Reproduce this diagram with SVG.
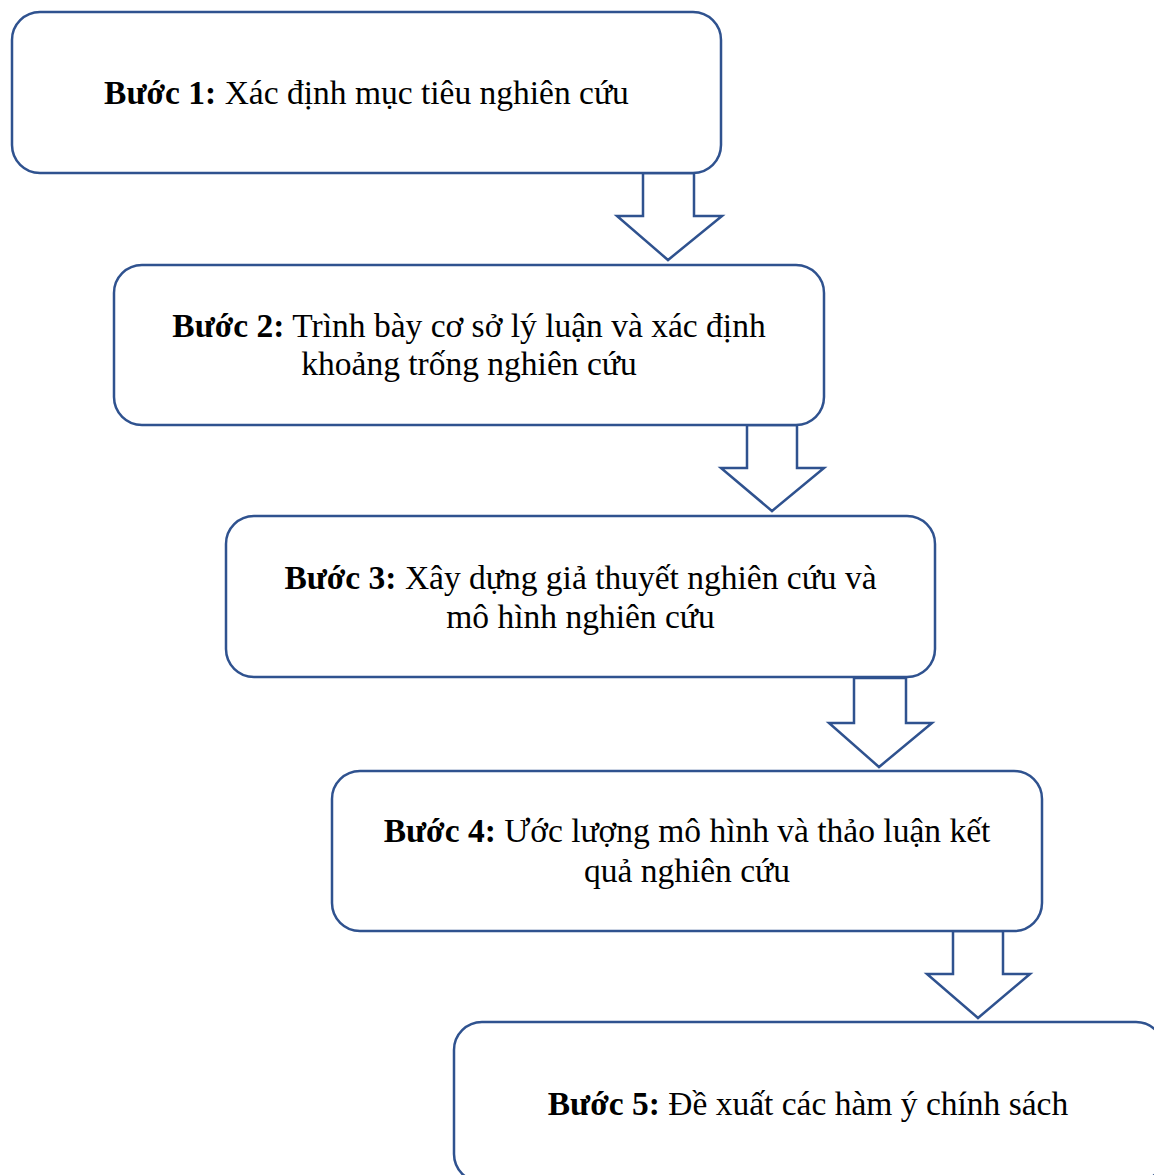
<svg xmlns="http://www.w3.org/2000/svg" width="1154" height="1175" viewBox="0 0 1154 1175">
<defs>
<style>
.box{fill:#ffffff;stroke:#2F528F;stroke-width:2.5}
.arr{fill:#ffffff;stroke:#2F528F;stroke-width:2.5;stroke-linejoin:miter}
.t{font-family:"Liberation Serif","Times New Roman",serif;font-size:33.5px;fill:#000000;text-anchor:middle}
.b{font-weight:bold}
</style>
</defs>
<rect width="1154" height="1175" fill="#ffffff"/>
<g id="connectors">
<path class="arr" d="M643,173 L694,173 L694,216 L722,216 L668,260 L617,216 L643,216 Z"/>
<path class="arr" d="M747,425 L797,425 L797,468 L824,468 L772,511 L721,468 L747,468 Z"/>
<path class="arr" d="M854,678 L906,678 L906,723 L932,723 L879,767 L829,723 L854,723 Z"/>
<path class="arr" d="M953,931 L1003,931 L1003,974 L1030,974 L978,1018 L927,974 L953,974 Z"/>
</g>
<g id="node1">
<rect class="box" x="12" y="12" width="709" height="161" rx="28"/>
<text class="t" x="366.5" y="104"><tspan class="b">Bước 1:</tspan> Xác định mục tiêu nghiên cứu</text>
</g>
<g id="node2">
<rect class="box" x="114" y="265" width="710" height="160" rx="28"/>
<text class="t" x="469" y="337"><tspan class="b">Bước 2:</tspan> Trình bày cơ sở lý luận và xác định</text>
<text class="t" x="469" y="375">khoảng trống nghiên cứu</text>
</g>
<g id="node3">
<rect class="box" x="226" y="516" width="709" height="161" rx="28"/>
<text class="t" x="580.5" y="589"><tspan class="b">Bước 3:</tspan> Xây dựng giả thuyết nghiên cứu và</text>
<text class="t" x="580.5" y="628">mô hình nghiên cứu</text>
</g>
<g id="node4">
<rect class="box" x="332" y="771" width="710" height="160" rx="28"/>
<text class="t" x="687" y="842"><tspan class="b">Bước 4:</tspan> Ước lượng mô hình và thảo luận kết</text>
<text class="t" x="687" y="882">quả nghiên cứu</text>
</g>
<g id="node5">
<rect class="box" x="454" y="1022" width="710" height="160" rx="28"/>
<text class="t" x="808" y="1115"><tspan class="b">Bước 5:</tspan> Đề xuất các hàm ý chính sách</text>
</g>
</svg>
